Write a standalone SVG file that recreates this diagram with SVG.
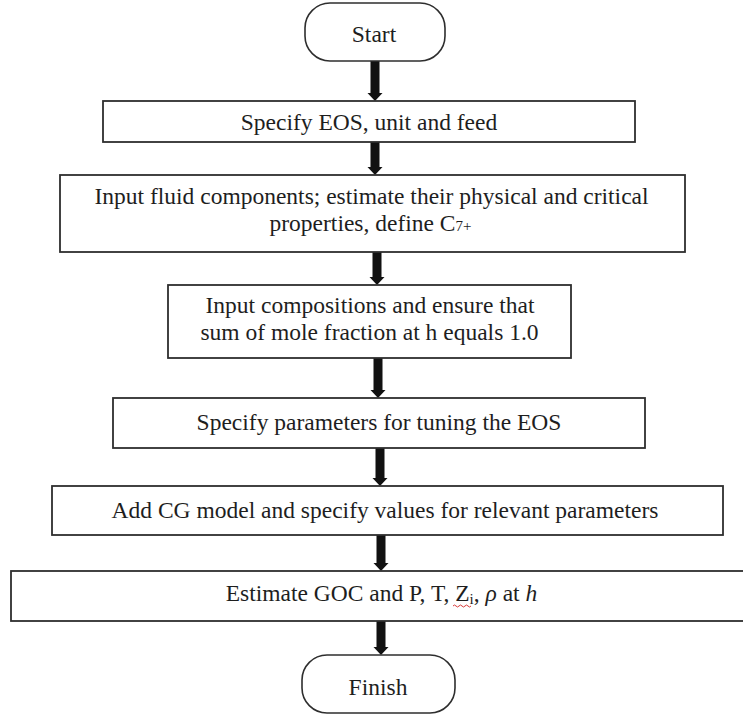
<svg xmlns="http://www.w3.org/2000/svg" width="743" height="714" viewBox="0 0 743 714">
  <style>
    .box { fill: #ffffff; stroke: #2e2e2e; stroke-width: 1.8; }
    .pill { fill: #ffffff; stroke: #2e2e2e; stroke-width: 1.6; }
    .lbl { font-family: "Liberation Serif", "Times New Roman", serif; font-size: 23.5px; fill: #1e1e1e; text-anchor: middle; }
    .arrow { fill: #111111; stroke: none; }
    .it { font-style: italic; }
  </style>
  <rect width="743" height="714" fill="#ffffff"/>

  <g id="connectors">
    <polygon class="arrow" points="370.5,61 379.5,61 379.5,93 382.5,93 375,101 367.5,93 370.5,93"/>
    <polygon class="arrow" points="370.5,142 379.5,142 379.5,167 382.5,167 375,175 367.5,167 370.5,167"/>
    <polygon class="arrow" points="372.5,252 381.5,252 381.5,277 384.5,277 377,285 369.5,277 372.5,277"/>
    <polygon class="arrow" points="373.5,358 382.5,358 382.5,390 385.5,390 378,398 370.5,390 373.5,390"/>
    <polygon class="arrow" points="375.5,448 384.5,448 384.5,478 387.5,478 380,486 372.5,478 375.5,478"/>
    <polygon class="arrow" points="376.5,535 385.5,535 385.5,563 388.5,563 381,571 373.5,563 376.5,563"/>
    <polygon class="arrow" points="376.5,621 385.5,621 385.5,647 388.5,647 381,655 373.5,647 376.5,647"/>
  </g>

  <g id="start">
    <rect class="pill" x="305" y="3" width="140" height="58" rx="25" ry="25"/>
    <text class="lbl" x="374" y="42">Start</text>
  </g>

  <g id="specify-eos">
    <rect class="box" x="103" y="101" width="532" height="41"/>
    <text class="lbl" x="369" y="130">Specify EOS, unit and feed</text>
  </g>

  <g id="input-fluid">
    <rect class="box" x="60" y="175" width="625" height="77"/>
    <text class="lbl" x="371.5" y="204">Input fluid components; estimate their physical and critical</text>
    <text class="lbl" x="370.5" y="231">properties, define C<tspan font-size="15">7+</tspan></text>
  </g>

  <g id="input-compositions">
    <rect class="box" x="168" y="285" width="403" height="73"/>
    <text class="lbl" x="370" y="313">Input compositions and ensure that</text>
    <text class="lbl" x="369.5" y="340">sum of mole fraction at h equals 1.0</text>
  </g>

  <g id="tuning">
    <rect class="box" x="113" y="398" width="532" height="50"/>
    <text class="lbl" x="379" y="430">Specify parameters for tuning the EOS</text>
  </g>

  <g id="cg-model">
    <rect class="box" x="52" y="486" width="671" height="49"/>
    <text class="lbl" x="385" y="518">Add CG model and specify values for relevant parameters</text>
  </g>

  <g id="estimate-goc">
    <rect class="box" x="11" y="571" width="740" height="50"/>
    <text class="lbl" x="381.5" y="601">Estimate GOC and P, T, Z<tspan font-size="15" dy="3">i</tspan><tspan dy="-3">,  </tspan><tspan class="it">ρ</tspan> at <tspan class="it">h</tspan></text>
    <path d="M453,606 q1.5,-2 3,0 t3,0 t3,0 t3,0 t3,0 t3,0" fill="none" stroke="#d83a3a" stroke-width="1"/>
  </g>

  <g id="finish">
    <rect class="pill" x="302" y="655" width="153" height="58" rx="25" ry="25"/>
    <text class="lbl" x="378" y="695">Finish</text>
  </g>
</svg>
